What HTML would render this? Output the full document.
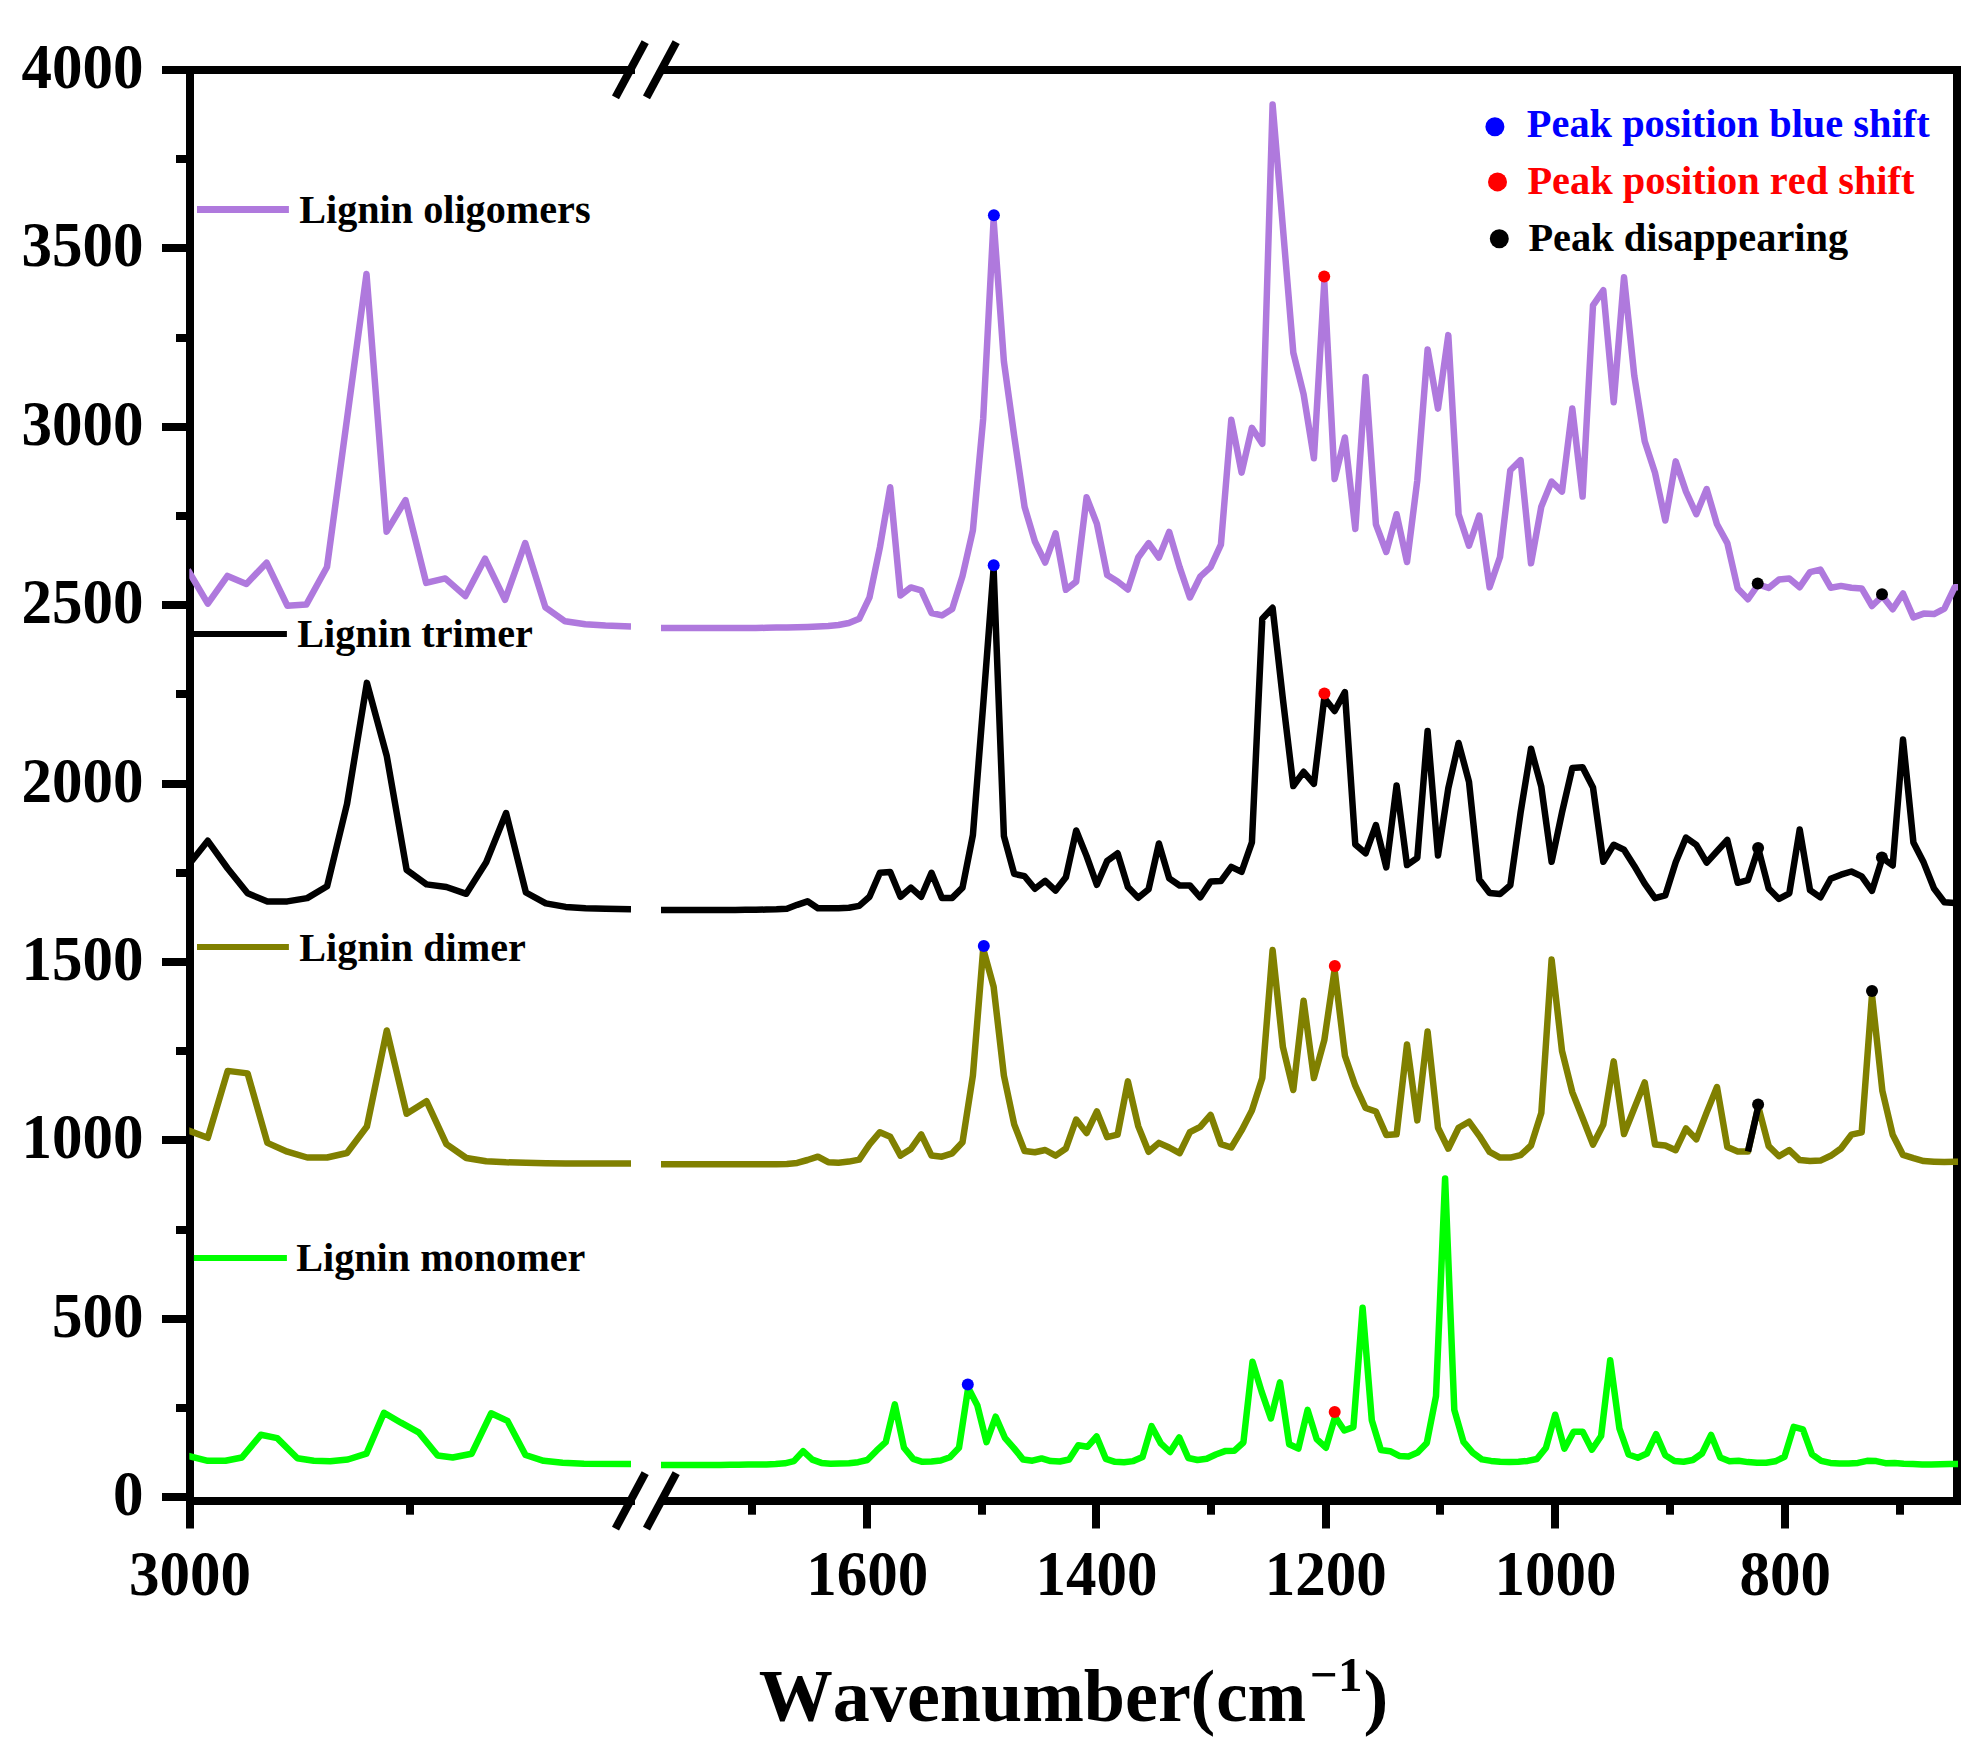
<!DOCTYPE html>
<html lang="en"><head><meta charset="utf-8"><title>Lignin Raman spectra</title>
<style>
html,body{margin:0;padding:0;background:#fff}
svg{display:block}
text{font-family:"Liberation Serif",serif;font-weight:bold;fill:#000;font-kerning:none}
.t60{font-size:61px}
.t40{font-size:40.2px}
</style></head><body>
<svg width="1980" height="1749" viewBox="0 0 1980 1749">
<rect width="1980" height="1749" fill="#fff"/>
<defs>
<clipPath id="cl"><rect x="189.3" y="60" width="441.7" height="1445"/></clipPath>
<clipPath id="cr"><rect x="661" y="60" width="1297" height="1445"/></clipPath>
</defs>
<g stroke="#000" stroke-width="8" fill="none" stroke-linecap="butt">
<line x1="190" y1="66" x2="190" y2="1528.5"/>
<line x1="1957" y1="66" x2="1957" y2="1505"/>
<line x1="162" y1="70" x2="635" y2="70"/>
<line x1="662" y1="70" x2="1961" y2="70"/>
<line x1="186" y1="1501" x2="635" y2="1501"/>
<line x1="662" y1="1501" x2="1961" y2="1501"/>
<line x1="176" y1="159" x2="190" y2="159"/>
<line x1="162" y1="248" x2="190" y2="248"/>
<line x1="176" y1="338" x2="190" y2="338"/>
<line x1="162" y1="427" x2="190" y2="427"/>
<line x1="176" y1="516" x2="190" y2="516"/>
<line x1="162" y1="605" x2="190" y2="605"/>
<line x1="176" y1="694" x2="190" y2="694"/>
<line x1="162" y1="784" x2="190" y2="784"/>
<line x1="176" y1="873" x2="190" y2="873"/>
<line x1="162" y1="962" x2="190" y2="962"/>
<line x1="176" y1="1051" x2="190" y2="1051"/>
<line x1="162" y1="1140" x2="190" y2="1140"/>
<line x1="176" y1="1230" x2="190" y2="1230"/>
<line x1="162" y1="1319" x2="190" y2="1319"/>
<line x1="176" y1="1408" x2="190" y2="1408"/>
<line x1="162" y1="1497" x2="190" y2="1497"/>
<line x1="867" y1="1501" x2="867" y2="1528.5"/>
<line x1="1096" y1="1501" x2="1096" y2="1528.5"/>
<line x1="1326" y1="1501" x2="1326" y2="1528.5"/>
<line x1="1555" y1="1501" x2="1555" y2="1528.5"/>
<line x1="1785" y1="1501" x2="1785" y2="1528.5"/>
<line x1="410" y1="1501" x2="410" y2="1514.7"/>
<line x1="752" y1="1501" x2="752" y2="1514.7"/>
<line x1="982" y1="1501" x2="982" y2="1514.7"/>
<line x1="1211" y1="1501" x2="1211" y2="1514.7"/>
<line x1="1440" y1="1501" x2="1440" y2="1514.7"/>
<line x1="1670" y1="1501" x2="1670" y2="1514.7"/>
<line x1="1900" y1="1501" x2="1900" y2="1514.7"/>
<line x1="615.5" y1="97.4" x2="645.2" y2="42.1"/>
<line x1="646.5" y1="97.4" x2="676.2" y2="42.1"/>
<line x1="615.5" y1="1528.6" x2="645.2" y2="1473.2"/>
<line x1="646.5" y1="1528.6" x2="676.2" y2="1473.2"/>
</g>
<g fill="none" stroke="#AF79DD" stroke-width="6.5" stroke-linejoin="round" stroke-linecap="butt">
<polyline clip-path="url(#cl)" points="187.9,570.0 207.8,603.6 227.5,575.9 246.4,583.9 266.6,562.7 287.3,605.7 306.3,604.6 327.0,567.0 347.0,419.0 366.5,274.0 386.6,531.7 405.5,500.1 426.2,582.9 445.2,578.4 465.4,596.1 485.0,558.7 505.0,599.8 525.2,543.0 545.4,607.4 565.1,621.3 585.3,624.3 605.5,625.6 631.0,626.4"/>
<polyline clip-path="url(#cr)" points="655.0,628.0 662.8,628.0 673.2,628.0 683.5,628.0 693.8,628.0 704.2,628.0 714.5,628.0 724.8,628.0 735.2,628.0 745.5,628.0 755.8,628.0 766.2,627.8 776.5,627.6 786.9,627.4 797.2,627.2 807.5,627.0 817.9,626.6 828.2,626.0 838.5,625.0 848.9,623.0 859.2,618.8 869.5,597.4 879.9,547.4 890.2,487.3 900.5,595.4 910.9,587.4 921.2,590.3 931.5,613.0 941.9,615.4 952.2,609.0 962.5,576.0 972.9,530.2 983.2,418.7 993.6,220.0 1003.9,361.5 1014.2,436.0 1024.6,507.0 1034.9,541.5 1045.2,562.5 1055.6,533.3 1065.9,589.8 1076.2,581.6 1086.6,497.3 1096.9,523.9 1107.2,575.1 1117.6,581.5 1127.9,589.5 1138.2,557.5 1148.6,543.1 1158.9,557.5 1169.2,531.9 1179.6,567.1 1189.9,597.5 1200.2,576.7 1210.6,567.1 1220.9,544.7 1231.3,419.8 1241.6,472.6 1251.9,427.8 1262.3,443.8 1272.6,104.4 1282.9,227.7 1293.3,352.6 1303.6,394.2 1313.9,458.2 1324.3,282.0 1334.6,479.0 1344.9,437.5 1355.3,529.0 1365.6,377.1 1375.9,524.3 1386.3,552.0 1396.6,514.2 1407.0,562.0 1417.3,480.3 1427.6,349.4 1438.0,408.6 1448.3,335.1 1458.6,514.2 1469.0,545.7 1479.3,515.5 1489.6,587.2 1500.0,557.0 1510.3,470.2 1520.6,460.1 1531.0,563.3 1541.3,506.7 1551.6,481.5 1562.0,491.6 1572.3,408.6 1582.6,496.6 1593.0,305.4 1603.3,290.3 1613.7,402.3 1624.0,277.2 1634.3,375.8 1644.7,441.3 1655.0,472.7 1665.3,520.5 1675.7,461.4 1686.0,491.6 1696.3,514.2 1706.7,489.1 1717.0,524.3 1727.3,543.1 1737.7,588.4 1748.0,599.2 1758.3,584.5 1768.7,587.9 1779.0,579.6 1789.3,578.4 1799.7,587.2 1810.0,572.1 1820.4,569.6 1830.7,587.7 1841.0,585.9 1851.4,587.7 1861.7,588.4 1872.0,606.0 1882.4,596.0 1892.7,609.3 1903.0,593.5 1913.4,617.4 1923.7,613.6 1934.0,614.1 1944.4,608.6 1954.7,587.2 1960.0,587.2"/>
</g>
<g fill="none" stroke="#000000" stroke-width="6.5" stroke-linejoin="round" stroke-linecap="butt">
<polyline clip-path="url(#cl)" points="187.9,865.8 207.8,840.8 227.7,868.5 247.6,893.3 267.4,901.4 287.3,901.4 307.2,898.1 327.1,886.2 347.0,804.1 366.9,682.9 386.8,756.2 406.6,869.8 426.5,884.4 446.4,887.0 466.3,893.8 486.2,862.2 506.1,813.0 525.9,892.5 545.8,903.4 565.7,906.9 585.6,908.2 605.5,908.7 631.0,909.2"/>
<polyline clip-path="url(#cr)" points="655.0,910.0 662.8,910.0 673.2,910.0 683.5,910.0 693.8,910.0 704.2,910.0 714.5,910.0 724.8,910.0 735.2,910.0 745.5,909.8 755.8,909.7 766.2,909.6 776.5,909.3 786.9,908.7 797.2,904.8 807.5,901.3 817.9,908.2 828.2,908.2 838.5,908.2 848.9,907.8 859.2,905.9 869.5,896.8 879.9,872.8 890.2,872.1 900.5,896.8 910.9,887.6 921.2,896.8 931.5,872.8 941.9,897.9 952.2,897.9 962.5,887.6 972.9,835.0 983.2,704.7 993.6,568.6 1003.9,836.2 1014.2,873.9 1024.6,876.2 1034.9,888.8 1045.2,880.8 1055.6,890.6 1065.9,877.2 1076.2,830.5 1086.6,856.1 1096.9,884.8 1107.2,860.9 1117.6,853.3 1127.9,887.0 1138.2,897.8 1148.6,889.2 1158.9,843.5 1169.2,878.3 1179.6,885.5 1189.9,885.5 1200.2,897.4 1210.6,881.6 1220.9,881.1 1231.3,866.8 1241.6,871.8 1251.9,842.4 1262.3,618.7 1272.6,607.8 1282.9,699.1 1293.3,786.0 1303.6,771.8 1313.9,783.8 1324.3,698.0 1334.6,711.0 1344.9,692.1 1355.3,844.6 1365.6,853.3 1375.9,825.1 1386.3,867.4 1396.6,785.4 1407.0,865.1 1417.3,857.8 1427.6,730.9 1438.0,855.4 1448.3,788.3 1458.6,743.0 1469.0,781.8 1479.3,879.6 1489.6,893.0 1500.0,894.1 1510.3,885.3 1520.6,812.5 1531.0,748.7 1541.3,786.7 1551.6,861.8 1562.0,812.5 1572.3,768.1 1582.6,767.3 1593.0,787.5 1603.3,861.8 1613.7,844.8 1624.0,849.7 1634.3,865.9 1644.7,883.6 1655.0,898.2 1665.3,895.4 1675.7,862.2 1686.0,837.6 1696.3,844.8 1706.7,862.6 1717.0,851.3 1727.3,840.0 1737.7,882.8 1748.0,880.1 1758.3,848.5 1768.7,888.5 1779.0,899.0 1789.3,893.3 1799.7,829.5 1810.0,890.1 1820.4,897.4 1830.7,878.8 1841.0,874.7 1851.4,871.5 1861.7,876.4 1872.0,890.9 1882.4,857.8 1892.7,865.5 1903.0,739.5 1913.4,842.4 1923.7,862.6 1934.0,888.5 1944.4,902.2 1954.7,903.0 1960.0,903.0"/>
</g>
<g fill="none" stroke="#808000" stroke-width="6.5" stroke-linejoin="round" stroke-linecap="butt">
<polyline clip-path="url(#cl)" points="187.9,1130.3 207.8,1137.8 227.7,1070.9 247.6,1073.4 267.4,1142.9 287.3,1151.7 307.2,1157.5 327.1,1157.5 347.0,1153.0 366.9,1126.5 386.8,1030.5 406.6,1113.8 426.5,1101.2 446.4,1144.1 466.3,1158.0 486.2,1161.3 506.1,1162.3 525.9,1162.8 545.8,1163.3 565.7,1163.5 585.6,1163.6 605.5,1163.6 631.0,1163.6"/>
<polyline clip-path="url(#cr)" points="655.0,1164.2 662.8,1164.2 673.2,1164.2 683.5,1164.2 693.8,1164.2 704.2,1164.2 714.5,1164.2 724.8,1164.2 735.2,1164.2 745.5,1164.2 755.8,1164.2 766.2,1164.2 776.5,1164.2 786.9,1164.0 797.2,1162.9 807.5,1160.0 817.9,1156.7 828.2,1162.2 838.5,1162.7 848.9,1161.6 859.2,1159.6 869.5,1144.4 879.9,1132.2 890.2,1136.7 900.5,1155.6 910.9,1148.9 921.2,1134.4 931.5,1155.6 941.9,1156.7 952.2,1153.3 962.5,1142.2 972.9,1075.6 983.2,948.9 993.6,986.7 1003.9,1075.6 1014.2,1124.4 1024.6,1151.1 1034.9,1152.2 1045.2,1150.0 1055.6,1155.6 1065.9,1148.5 1076.2,1119.5 1086.6,1133.0 1096.9,1111.5 1107.2,1137.2 1117.6,1134.6 1127.9,1081.4 1138.2,1126.1 1148.6,1151.8 1158.9,1142.9 1169.2,1147.5 1179.6,1153.2 1189.9,1132.1 1200.2,1126.9 1210.6,1114.9 1220.9,1144.1 1231.3,1147.5 1241.6,1130.4 1251.9,1110.6 1262.3,1078.0 1272.6,950.1 1282.9,1047.1 1293.3,1090.0 1303.6,1000.7 1313.9,1078.0 1324.3,1040.2 1334.6,969.8 1344.9,1055.7 1355.3,1085.7 1365.6,1108.0 1375.9,1111.5 1386.3,1135.0 1396.6,1134.3 1407.0,1044.4 1417.3,1120.4 1427.6,1031.5 1438.0,1127.7 1448.3,1148.7 1458.6,1127.7 1469.0,1121.7 1479.3,1135.8 1489.6,1151.9 1500.0,1157.6 1510.3,1157.6 1520.6,1155.2 1531.0,1145.5 1541.3,1113.1 1551.6,959.6 1562.0,1050.9 1572.3,1092.1 1582.6,1118.0 1593.0,1144.6 1603.3,1124.4 1613.7,1061.4 1624.0,1134.1 1634.3,1108.3 1644.7,1082.4 1655.0,1144.6 1665.3,1145.5 1675.7,1150.2 1686.0,1128.4 1696.3,1139.3 1706.7,1112.3 1717.0,1087.1 1727.3,1146.9 1737.7,1151.4 1748.0,1151.4 1758.3,1106.5 1768.7,1146.1 1779.0,1156.2 1789.3,1150.1 1799.7,1160.1 1810.0,1160.9 1820.4,1160.6 1830.7,1155.8 1841.0,1148.5 1851.4,1134.7 1861.7,1132.3 1872.0,995.0 1882.4,1091.1 1892.7,1134.7 1903.0,1154.9 1913.4,1158.2 1923.7,1161.1 1934.0,1161.7 1944.4,1162.1 1954.7,1161.7 1960.0,1161.7"/>
</g>
<g fill="none" stroke="#00FF00" stroke-width="6.5" stroke-linejoin="round" stroke-linecap="butt">
<polyline clip-path="url(#cl)" points="187.9,1455.8 207.8,1460.8 225.5,1460.8 241.9,1457.5 260.8,1434.8 277.2,1438.1 297.4,1458.3 313.8,1460.8 330.3,1461.3 347.9,1459.5 366.4,1453.7 384.0,1412.8 401.0,1422.7 418.6,1432.3 437.6,1455.5 452.7,1457.5 471.7,1453.7 491.1,1413.3 507.5,1420.9 525.5,1455.0 543.6,1460.8 562.6,1462.8 584.0,1463.8 631.0,1464.1"/>
<polyline clip-path="url(#cr)" points="655.0,1464.9 665.5,1464.9 674.7,1464.9 683.9,1464.9 693.0,1464.9 702.2,1464.9 711.4,1464.9 720.6,1464.9 729.7,1464.8 738.9,1464.7 748.1,1464.6 757.2,1464.5 766.4,1464.4 775.6,1464.0 784.8,1463.3 793.9,1461.1 803.1,1451.1 812.3,1459.6 821.4,1462.9 830.6,1463.8 839.8,1463.6 849.0,1463.3 858.1,1462.2 867.3,1460.0 876.5,1450.7 885.7,1442.2 894.8,1404.4 904.0,1447.8 913.2,1458.9 922.3,1461.8 931.5,1461.5 940.7,1460.5 949.9,1457.3 959.0,1447.8 968.2,1387.8 977.4,1405.6 986.5,1442.2 995.7,1416.7 1004.9,1437.8 1014.1,1448.4 1023.2,1459.6 1032.4,1460.7 1041.6,1458.4 1050.7,1461.1 1059.9,1461.5 1069.1,1459.5 1078.3,1445.3 1087.4,1446.8 1096.6,1436.5 1105.8,1458.8 1115.0,1461.8 1124.1,1462.3 1133.3,1461.1 1142.5,1457.1 1151.6,1426.2 1160.8,1443.4 1170.0,1452.0 1179.2,1437.4 1188.3,1458.0 1197.5,1460.0 1206.7,1458.8 1215.8,1454.5 1225.0,1451.1 1234.2,1450.8 1243.4,1442.5 1252.5,1361.8 1261.7,1391.9 1270.9,1418.5 1280.0,1382.4 1289.2,1444.2 1298.4,1448.5 1307.6,1409.9 1316.7,1439.1 1325.9,1447.7 1335.1,1416.8 1344.3,1430.5 1353.4,1427.1 1362.6,1307.7 1371.8,1420.2 1380.9,1450.0 1390.1,1451.2 1399.3,1455.9 1408.5,1456.5 1417.6,1452.6 1426.8,1442.9 1436.0,1396.2 1445.1,1178.5 1454.3,1409.8 1463.5,1441.9 1472.7,1452.6 1481.8,1459.4 1491.0,1460.9 1500.2,1461.7 1509.3,1461.9 1518.5,1461.7 1527.7,1460.9 1536.9,1459.0 1546.0,1447.7 1555.2,1414.7 1564.4,1448.7 1573.6,1431.8 1582.7,1431.8 1591.9,1449.7 1601.1,1436.0 1610.2,1360.2 1619.4,1428.3 1628.6,1454.5 1637.8,1457.8 1646.9,1453.5 1656.1,1434.1 1665.3,1455.3 1674.4,1461.0 1683.6,1461.7 1692.8,1460.0 1702.0,1453.5 1711.1,1435.0 1720.3,1457.6 1729.5,1461.3 1738.6,1460.8 1747.8,1462.1 1757.0,1462.7 1766.2,1462.7 1775.3,1461.3 1784.5,1456.8 1793.7,1426.9 1802.9,1429.3 1812.0,1454.3 1821.2,1460.8 1830.4,1462.9 1839.5,1463.6 1848.7,1463.6 1857.9,1462.9 1867.1,1460.8 1876.2,1461.1 1885.4,1463.2 1894.6,1462.9 1903.7,1463.7 1912.9,1464.0 1922.1,1464.4 1931.3,1464.5 1940.4,1464.2 1949.6,1464.0 1958.8,1464.0 1960.0,1464.0"/>
</g>
<line x1="1748.0" y1="1151.4" x2="1758.3" y2="1106.5" stroke="#000" stroke-width="6.5" stroke-linecap="butt"/>
<g fill="none">
<line x1="197" y1="209.5" x2="288.9" y2="209.5" stroke="#AF79DD" stroke-width="7"/>
<line x1="193.9" y1="634" x2="286.9" y2="634" stroke="#000" stroke-width="6"/>
<line x1="197" y1="947" x2="288.9" y2="947" stroke="#808000" stroke-width="6"/>
<line x1="193.9" y1="1258" x2="286.9" y2="1258" stroke="#00FF00" stroke-width="6"/>
</g>
<circle cx="993.9" cy="215.2" r="6" fill="#0000FF"/>
<circle cx="993.7" cy="565.2" r="6" fill="#0000FF"/>
<circle cx="983.8" cy="946" r="6" fill="#0000FF"/>
<circle cx="967.8" cy="1384.4" r="6" fill="#0000FF"/>
<circle cx="1324.2" cy="276.4" r="6" fill="#FF0000"/>
<circle cx="1324.4" cy="693.6" r="6" fill="#FF0000"/>
<circle cx="1334.8" cy="966" r="6" fill="#FF0000"/>
<circle cx="1334.7" cy="1412" r="6" fill="#FF0000"/>
<circle cx="1757.7" cy="583.4" r="6" fill="#000"/>
<circle cx="1882" cy="594.2" r="6" fill="#000"/>
<circle cx="1758.1" cy="848.1" r="6" fill="#000"/>
<circle cx="1881.9" cy="857.5" r="6" fill="#000"/>
<circle cx="1758.1" cy="1104.5" r="6" fill="#000"/>
<circle cx="1872" cy="990.9" r="6" fill="#000"/>
<circle cx="1494.9" cy="126.8" r="9.5" fill="#0000FF"/>
<circle cx="1497.5" cy="181.9" r="9.5" fill="#FF0000"/>
<circle cx="1499.3" cy="238.7" r="9.5" fill="#000"/>
<text class="t60" transform="translate(143.4,87.6) scale(1,1.03)" text-anchor="end">4000</text>
<text class="t60" transform="translate(143.4,265.6) scale(1,1.03)" text-anchor="end">3500</text>
<text class="t60" transform="translate(143.4,444.6) scale(1,1.03)" text-anchor="end">3000</text>
<text class="t60" transform="translate(143.4,622.6) scale(1,1.03)" text-anchor="end">2500</text>
<text class="t60" transform="translate(143.4,801.6) scale(1,1.03)" text-anchor="end">2000</text>
<text class="t60" transform="translate(143.4,979.6) scale(1,1.03)" text-anchor="end">1500</text>
<text class="t60" transform="translate(143.4,1157.6) scale(1,1.03)" text-anchor="end">1000</text>
<text class="t60" transform="translate(143.4,1336.6) scale(1,1.03)" text-anchor="end">500</text>
<text class="t60" transform="translate(143.4,1514.6) scale(1,1.03)" text-anchor="end">0</text>
<text class="t60" transform="translate(190,1594.9) scale(1,1.03)" text-anchor="middle">3000</text>
<text class="t60" transform="translate(867.3,1594.9) scale(1,1.03)" text-anchor="middle">1600</text>
<text class="t60" transform="translate(1096.5,1594.9) scale(1,1.03)" text-anchor="middle">1400</text>
<text class="t60" transform="translate(1325.8,1594.9) scale(1,1.03)" text-anchor="middle">1200</text>
<text class="t60" transform="translate(1555.5,1594.9) scale(1,1.03)" text-anchor="middle">1000</text>
<text class="t60" transform="translate(1785.2,1594.9) scale(1,1.03)" text-anchor="middle">800</text>
<text class="t40" x="299.2" y="222.9">Lignin oligomers</text>
<text class="t40" x="297.3" y="646.9">Lignin trimer</text>
<text class="t40" x="299.2" y="961">Lignin dimer</text>
<text class="t40" x="296.2" y="1271">Lignin monomer</text>
<text x="1526.8" y="136.8" style="font-size:40.4px;fill:#0000FF">Peak position blue shift</text>
<text x="1527.4" y="193.9" style="font-size:40.4px;fill:#FF0000">Peak position red shift</text>
<text x="1528.4" y="250.7" style="font-size:40.4px">Peak disappearing</text>
<text x="758.8" y="1720.5" textLength="432" lengthAdjust="spacingAndGlyphs" style="font-size:74.5px">Wavenumber</text>
<text x="1190.4" y="1720.5" style="font-size:74.5px">(</text>
<text x="1216.2" y="1720.5" textLength="89.8" lengthAdjust="spacingAndGlyphs" style="font-size:74.5px">cm</text>
<text x="1310.1" y="1690.8" style="font-size:49px">−1</text>
<text x="1363.6" y="1720.5" style="font-size:74.5px">)</text>
</svg></body></html>
